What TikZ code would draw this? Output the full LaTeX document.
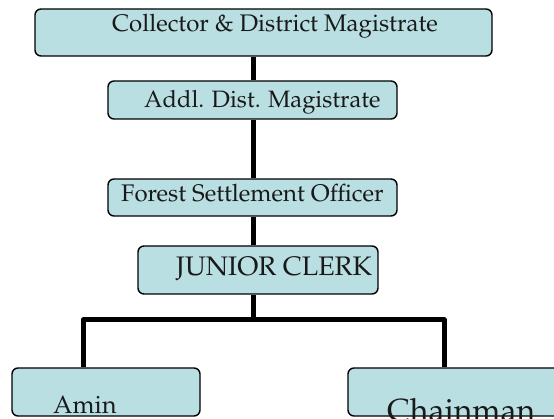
\documentclass[tikz,border=0pt]{standalone}
\usepackage[T1]{fontenc}
\usepackage{mathpazo}
\definecolor{boxfill}{RGB}{185,223,227}
\tikzset{
  box/.style={draw=black, line width=1.4pt, fill=boxfill, rounded corners=6pt, inner sep=0pt},
  lbl/.style={anchor=base west, inner sep=0pt, text=black!90},
  conn/.style={line width=5pt, line join=round}
}
\begin{document}
\begin{tikzpicture}[x=1pt,y=-1pt]
\useasboundingbox (0,0) rectangle (554,419);
\clip (0,0) rectangle (554,419);
% boxes
\node[box, minimum width=457pt, minimum height=47pt] (b1) at (263.5,32.5) {};
\node[box, minimum width=289pt, minimum height=38pt] (b2) at (252.5,100) {};
\node[box, minimum width=289pt, minimum height=37pt] (b3) at (252.5,197.5) {};
\node[box, minimum width=240pt, minimum height=48pt] (b4) at (258,270) {};
\node[box, minimum width=188pt, minimum height=48pt] (b5) at (106,392) {};
\node[box, minimum width=222pt, minimum height=48pt] (b6) at (459,392) {};
% texts
\node[lbl, font=\fontsize{24}{26}\selectfont] (t1) at (112,32) {Collector \& District Magistrate};
\node[lbl, font=\fontsize{23.7}{26}\selectfont] (t2) at (144,108) {Addl. Dist. Magistrate};
\node[lbl, font=\fontsize{24}{26}\selectfont] (t3) at (121,202) {Forest Settlement Officer};
\node[lbl, font=\fontsize{26.8}{29}\selectfont] (t4) at (176,276) {JUNIOR CLERK};
\node[lbl, font=\fontsize{25}{28}\selectfont] (t5) at (53,413) {Amin};
\node[lbl, font=\fontsize{32}{35}\selectfont] (t6) at (387,421) {Chainman};
% connectors
\coordinate (spine) at (253,0);
\coordinate (bar) at (253,320);
\coordinate (la) at (83,320);
\coordinate (ra) at (444,320);
\draw[conn] (b1.south -| spine) -- (b2.north -| spine);
\draw[conn] (b2.south -| spine) -- (b3.north -| spine);
\draw[conn] (b3.south -| spine) -- (b4.north -| spine);
\draw[conn] (b4.south -| spine) -- (bar);
\draw[conn] (b5.north -| la) -- (la) -- (ra) -- (b6.north -| ra);
\end{tikzpicture}
\end{document}
